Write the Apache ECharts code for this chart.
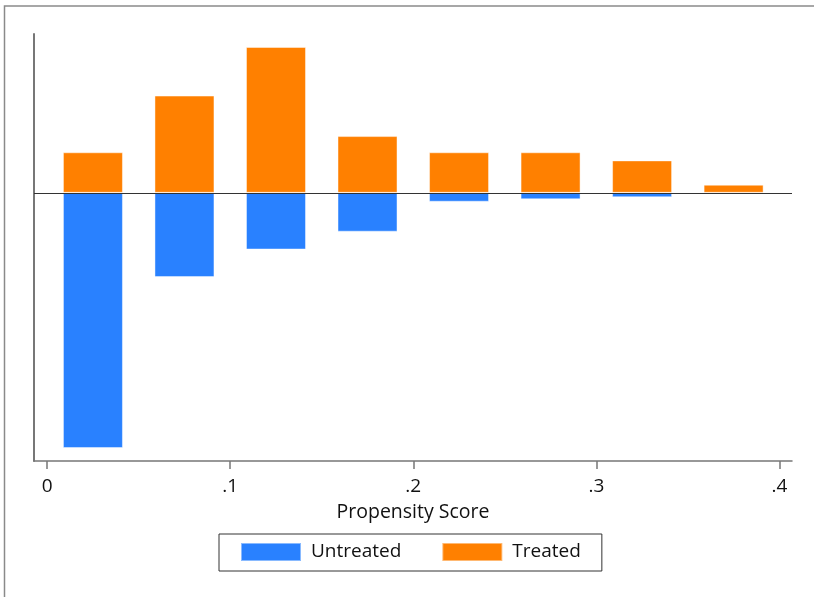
<!DOCTYPE html>
<html>
<head>
<meta charset="utf-8">
<script src="https://cdn.jsdelivr.net/npm/echarts@6/dist/echarts.min.js"></script>
<style>
  html, body { margin: 0; padding: 0; background: #fff; }
  #chart { width: 814px; height: 597px; }
</style>
</head>
<body>
<div id="chart"></div>
<script>
// Propensity score bins (bin centres) and counts per group
const binCenters = [0.025, 0.075, 0.125, 0.175, 0.225, 0.275, 0.325, 0.375];
const treated    = [5, 12, 18, 7, 5, 5, 4, 1];
const untreated  = [31.5, 10.4, 7.0, 4.8, 1.1, 0.8, 0.55, 0];
const tickValues = [0, 0.1, 0.2, 0.3, 0.4];
const tickLabels = ['0', '.1', '.2', '.3', '.4'];

const FONT = '"Open Sans", "Noto Sans", sans-serif';

const chart = echarts.init(document.getElementById('chart'), null, { renderer: 'canvas' });

const toPairs = (vals, sign) => binCenters.map((x, i) => [x, sign * vals[i]]);

chart.setOption({
  animation: false,
  backgroundColor: '#ffffff',
  textStyle: { fontFamily: FONT },
  grid: { left: 34, right: 22, top: 34, bottom: 136, containLabel: false },
  xAxis: {
    type: 'value',
    min: -0.0072,
    max: 0.4069,
    name: 'Propensity Score',
    nameLocation: 'middle',
    nameGap: 41,
    nameTextStyle: { fontFamily: FONT, fontSize: 19.5, color: '#111' },
    axisLine: { onZero: false, lineStyle: { color: '#777', width: 1.5 } },
    axisTick: { show: true, length: 8, customValues: tickValues, lineStyle: { color: '#777', width: 1.5 } },
    axisLabel: {
      customValues: tickValues,
      formatter: v => tickLabels[tickValues.findIndex(t => Math.abs(t - v) < 1e-9)],
      fontFamily: FONT, fontSize: 19, color: '#111', margin: 16
    },
    splitLine: { show: false }
  },
  yAxis: {
    type: 'value',
    min: -33.1,
    max: 19.6,
    axisLine: { show: true, onZero: false, lineStyle: { color: '#777', width: 2 } },
    axisTick: { show: false },
    axisLabel: { show: false },
    splitLine: { show: false }
  },
  legend: {
    data: ['Untreated', 'Treated'],
    left: 219,
    top: 534,
    orient: 'horizontal',
    icon: 'rect',
    itemWidth: 60,
    itemHeight: 18,
    itemGap: 40,
    padding: [8, 21, 9, 21],
    borderColor: '#333',
    borderWidth: 1,
    textStyle: { fontFamily: FONT, fontSize: 19, color: '#111', padding: [0, 0, 0, 5] }
  },
  series: [
    {
      name: 'Untreated',
      type: 'bar',
      stack: 'ps',
      barWidth: 60,
      itemStyle: { color: '#2981ff', borderColor: 'rgba(255,255,255,0.45)', borderWidth: 1 },
      data: toPairs(untreated, -1),
      markLine: {
        silent: true,
        symbol: 'none',
        label: { show: false },
        lineStyle: { color: '#333', width: 1.2, type: 'solid' },
        data: [{ yAxis: 0 }]
      },
      z: 2
    },
    {
      name: 'Treated',
      type: 'bar',
      stack: 'ps',
      barWidth: 60,
      itemStyle: { color: '#ff8000', borderColor: 'rgba(255,255,255,0.45)', borderWidth: 1 },
      data: toPairs(treated, 1),
      z: 2
    }
  ],
  graphic: [
    {
      type: 'polyline',
      shape: { points: [[4.5, 597], [4.5, 6], [814, 6]] },
      style: { stroke: '#8a8a8a', lineWidth: 1.5, fill: null },
      silent: true
    }
  ]
});
</script>
</body>
</html>
